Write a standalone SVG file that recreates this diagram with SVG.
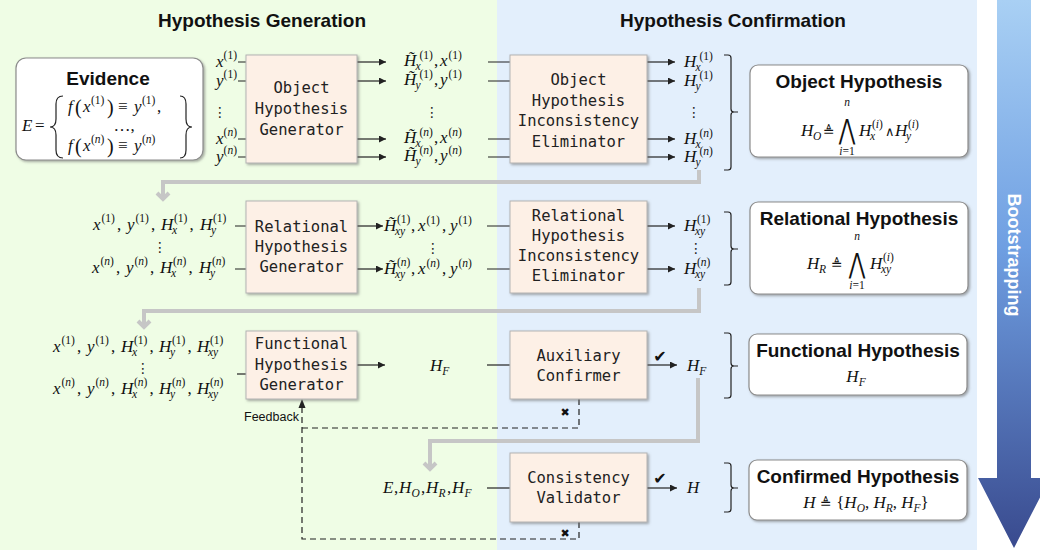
<svg xmlns="http://www.w3.org/2000/svg" width="1040" height="550" viewBox="0 0 1040 550">
<defs>
<style>
.hdr{font-family:"Liberation Sans",Arial,sans-serif;font-weight:bold;font-size:19px;fill:#111;text-anchor:middle}
.ttl{font-family:"Liberation Sans",Arial,sans-serif;font-weight:bold;font-size:19px;fill:#111;text-anchor:middle}
.mono{font-family:"DejaVu Sans Mono",monospace;font-size:15.5px;fill:#222;text-anchor:middle}
.gen{fill:#fdf0e6;stroke:#b3b3b3;stroke-width:1}
.res{fill:#fff;stroke:#8c8c8c;stroke-width:1.2}
.m{font-family:"Liberation Serif","DejaVu Serif",serif;font-style:italic;font-size:17px;fill:#111}
.s{font-size:11.5px}
.u{font-style:normal}
.i{font-style:italic}
.sym{font-family:"DejaVu Sans",sans-serif;font-style:normal}
.big{font-family:"DejaVu Sans",sans-serif;font-style:normal;font-size:28px;fill:#111;text-anchor:middle}
.ln{stroke:#222;stroke-width:1.2;fill:none}
.ar{stroke:#222;stroke-width:1.2;fill:none;marker-end:url(#ah)}
.gray{stroke:#c6c6c6;stroke-width:4;fill:none}
.dash{stroke:#222;stroke-width:1.2;fill:none;stroke-dasharray:6 4}
.brk{stroke:#222;stroke-width:1.2;fill:none}
.dots{font-family:"DejaVu Sans",sans-serif;font-size:14px;fill:#222;text-anchor:middle}
.mk{font-family:"DejaVu Sans",sans-serif;fill:#111}
</style>
<marker id="ah" viewBox="0 0 10 10" refX="10" refY="5" markerWidth="8" markerHeight="7" orient="auto" markerUnits="userSpaceOnUse">
<path d="M0,0 L10,5 L0,10 z" fill="#222"/>
</marker>
<linearGradient id="bs" x1="0" y1="0" x2="0" y2="1">
<stop offset="0" stop-color="#a9d0f4"/>
<stop offset="0.45" stop-color="#6f9fe2"/>
<stop offset="1" stop-color="#394a8e"/>
</linearGradient>
<filter id="sh" x="-5%" y="-5%" width="115%" height="125%">
<feDropShadow dx="1.5" dy="1.5" stdDeviation="1" flood-color="#666" flood-opacity="0.55"/>
</filter>
</defs>

<!-- backgrounds -->
<rect x="0" y="0" width="497" height="550" fill="#effde5"/>
<rect x="497" y="0" width="480" height="550" fill="#e3effc"/>
<rect x="977" y="0" width="63" height="550" fill="#ffffff"/>

<!-- bootstrapping arrow -->
<g id="bootstrapping">
<path d="M997,0 H1031 V478 H1050 L1014,548 L978,478 H997 Z" fill="url(#bs)"/>
<text transform="translate(1014,255) rotate(90)" x="0" y="6" font-family="Liberation Sans,Arial,sans-serif" font-weight="bold" font-size="18" fill="#fff" text-anchor="middle">Bootstrapping</text>
</g>

<text class="hdr" x="262" y="27">Hypothesis Generation</text>
<text class="hdr" x="733" y="27">Hypothesis Confirmation</text>

<!-- connectors -->
<g id="connectors">
<!-- row 1 -->
<path class="ln" d="M238,62 H246 M238,81 H246 M238,139 H246 M238,157 H246"/>
<path class="ar" d="M357,62 H386"/><path class="ar" d="M357,81 H386"/>
<path class="ar" d="M357,139 H386"/><path class="ar" d="M357,157 H386"/>
<path class="ln" d="M488,62 H510 M488,81 H510 M488,139 H510 M488,157 H510"/>
<path class="ar" d="M647,62 H675"/><path class="ar" d="M647,81 H675"/>
<path class="ar" d="M647,139 H675"/><path class="ar" d="M647,157 H675"/>
<!-- row 2 -->
<path class="ln" d="M235,226 H246 M235,269 H246"/>
<path class="ar" d="M357,226 H383"/><path class="ar" d="M357,269 H383"/>
<path class="ln" d="M487,226 H510 M487,269 H510"/>
<path class="ar" d="M647,226 H675"/><path class="ar" d="M647,269 H675"/>
<!-- row 3 -->
<path class="ln" d="M237,374 H246"/>
<path class="ar" d="M357,365 H385"/>
<path class="ln" d="M487,365 H510"/>
<path class="ar" d="M647,365 H677"/>
<!-- row 4 -->
<path class="ln" d="M487,488 H510"/>
<path class="ar" d="M647,488 H677"/>
<!-- brackets -->
<path class="brk" d="M724,55 H728 Q731,55 731,58 V109 Q731,112 734,112 H738 M734,112 Q731,112 731,115 V167 Q731,170 728,170 H724"/>
<path class="brk" d="M724,212 H728 Q731,212 731,215 V246 Q731,249 734,249 H738 M734,249 Q731,249 731,252 V282 Q731,285 728,285 H724"/>
<path class="brk" d="M724,333 H728 Q731,333 731,336 V363 Q731,366 734,366 H738 M734,366 Q731,366 731,369 V395 Q731,398 728,398 H724"/>
<path class="brk" d="M724,463 H728 Q731,463 731,466 V485 Q731,488 734,488 H738 M734,488 Q731,488 731,491 V509 Q731,512 728,512 H724"/>
<!-- gray flow -->
<path class="gray" d="M699,170 V182 H163 V199"/>
<path class="gray" d="M157,193 L163,199 L169,193"/>
<path class="gray" d="M699,288 V311 H144 V327"/>
<path class="gray" d="M138,321 L144,327 L150,321"/>
<path class="gray" d="M698,378 V441 H430 V469"/>
<path class="gray" d="M424,463 L430,469 L436,463"/>
<!-- feedback dashed -->
<path class="dash" d="M579,399 V428 H302"/>
<path class="dash" d="M579,522 V539 H302 V407"/>
<path d="M302,399 L298.5,408 L305.5,408 Z" fill="#222"/>
<text class="mk" x="565" y="416" font-size="11" text-anchor="middle">✖</text>
<text class="mk" x="565" y="537" font-size="11" text-anchor="middle">✖</text>
<text class="mk" x="660" y="362" font-size="16" text-anchor="middle">✔</text>
<text class="mk" x="660" y="484" font-size="16" text-anchor="middle">✔</text>
<text x="244" y="421" font-family="Liberation Sans,Arial,sans-serif" font-size="12.5" fill="#111">Feedback</text>
</g>

<!-- Evidence -->
<g id="evidence">
<rect x="16" y="58" width="187" height="102" rx="10" class="res" filter="url(#sh)"/>
<text class="ttl" x="108" y="85">Evidence</text>
<text class="m" x="22" y="131">E<tspan class="u" x="35">=</tspan></text>
<path class="brk" stroke-width="1.4" d="M63,96 Q56,96 56,104 V119 Q56,127 50,127 Q56,127 56,135 V150 Q56,158 63,158"/>
<path class="brk" stroke-width="1.4" d="M180,96 Q186,96 186,104 V119 Q186,127 192,127 Q186,127 186,135 V150 Q186,158 180,158"/>
<text class="m" y="112"><tspan x="68">f</tspan><tspan class="u" x="75" y="114" font-size="20">(</tspan><tspan x="83" y="112">x</tspan><tspan class="s u" x="91" y="104">(1)</tspan><tspan class="u" x="107" y="114" font-size="20">)</tspan><tspan class="u" x="118" y="112">≡</tspan><tspan x="134" y="112">y</tspan><tspan class="s u" x="142" y="104">(1)</tspan><tspan class="u" x="157" y="112">,</tspan></text>
<text class="m u" x="124" y="131" text-anchor="middle">…,</text>
<text class="m" y="151"><tspan x="68">f</tspan><tspan class="u" x="75" y="153" font-size="20">(</tspan><tspan x="83" y="151">x</tspan><tspan class="s u" x="91" y="143">(<tspan class="i">n</tspan>)</tspan><tspan class="u" x="107" y="153" font-size="20">)</tspan><tspan class="u" x="118" y="151">≡</tspan><tspan x="134" y="151">y</tspan><tspan class="s u" x="142" y="143">(<tspan class="i">n</tspan>)</tspan></text>
</g>

<!-- row 1 inputs -->
<g id="row1-inputs">
<text class="m" x="237" y="67" text-anchor="end">x<tspan class="s u" dy="-8">(1)</tspan></text>
<text class="m" x="237" y="86" text-anchor="end">y<tspan class="s u" dy="-8">(1)</tspan></text>
<text class="dots" x="220" y="117">⋮</text>
<text class="m" x="237" y="144" text-anchor="end">x<tspan class="s u" dy="-8">(<tspan class="i">n</tspan>)</tspan></text>
<text class="m" x="237" y="162" text-anchor="end">y<tspan class="s u" dy="-8">(<tspan class="i">n</tspan>)</tspan></text>
</g>

<g id="object-generator">
<rect x="246" y="55" width="111" height="108" class="gen" filter="url(#sh)"/>
<text class="mono" x="301.5" y="93">Object</text>
<text class="mono" x="301.5" y="114">Hypothesis</text>
<text class="mono" x="301.5" y="135">Generator</text>
</g>

<g id="row1-candidates">
<text class="m" y="66"><tspan x="404">H̃</tspan><tspan class="s u" x="419.5" y="58.5">(1)</tspan><tspan class="s" x="415.5" y="69.5">x</tspan><tspan class="u" x="434" y="66">,</tspan><tspan x="440" y="66">x</tspan><tspan class="s u" x="448.5" y="59">(1)</tspan></text>
<text class="m" y="85"><tspan x="404">H̃</tspan><tspan class="s u" x="419.5" y="77.5">(1)</tspan><tspan class="s" x="415.5" y="88.5">y</tspan><tspan class="u" x="434" y="85">,</tspan><tspan x="440" y="85">y</tspan><tspan class="s u" x="448.5" y="78">(1)</tspan></text>
<text class="dots" x="432" y="117">⋮</text>
<text class="m" y="143"><tspan x="404">H̃</tspan><tspan class="s u" x="419.5" y="135.5">(<tspan class="i">n</tspan>)</tspan><tspan class="s" x="415.5" y="146.5">x</tspan><tspan class="u" x="434" y="143">,</tspan><tspan x="440" y="143">x</tspan><tspan class="s u" x="448.5" y="136">(<tspan class="i">n</tspan>)</tspan></text>
<text class="m" y="161"><tspan x="404">H̃</tspan><tspan class="s u" x="419.5" y="153.5">(<tspan class="i">n</tspan>)</tspan><tspan class="s" x="415.5" y="164.5">y</tspan><tspan class="u" x="434" y="161">,</tspan><tspan x="440" y="161">y</tspan><tspan class="s u" x="448.5" y="154">(<tspan class="i">n</tspan>)</tspan></text>
</g>

<g id="object-eliminator">
<rect x="510" y="55" width="137" height="108" class="gen" filter="url(#sh)"/>
<text class="mono" x="578.5" y="85">Object</text>
<text class="mono" x="578.5" y="105.5">Hypothesis</text>
<text class="mono" x="578.5" y="126">Inconsistency</text>
<text class="mono" x="578.5" y="146.5">Eliminator</text>
</g>

<g id="row1-outputs">
<text class="m" y="67"><tspan x="684">H</tspan><tspan class="s u" x="699.5" y="59.5">(1)</tspan><tspan class="s" x="695.5" y="70.5">x</tspan></text>
<text class="m" y="86"><tspan x="684">H</tspan><tspan class="s u" x="699.5" y="78.5">(1)</tspan><tspan class="s" x="695.5" y="89.5">y</tspan></text>
<text class="dots" x="694" y="117">⋮</text>
<text class="m" y="144"><tspan x="684">H</tspan><tspan class="s u" x="699.5" y="136.5">(<tspan class="i">n</tspan>)</tspan><tspan class="s" x="695.5" y="147.5">x</tspan></text>
<text class="m" y="162"><tspan x="684">H</tspan><tspan class="s u" x="699.5" y="154.5">(<tspan class="i">n</tspan>)</tspan><tspan class="s" x="695.5" y="165.5">y</tspan></text>
</g>

<g id="object-hypothesis">
<rect x="750" y="65" width="218" height="92" rx="8" class="res" filter="url(#sh)"/>
<text class="ttl" x="859" y="88">Object Hypothesis</text>
<text class="m" y="136"><tspan x="801">H</tspan><tspan class="s" x="813" y="140">O</tspan><tspan class="sym" x="823" y="136" font-size="14">≜</tspan></text>
<text class="m s" x="847" y="106" text-anchor="middle">n</text>
<text class="big" transform="translate(847,139) scale(0.72,1)" x="0" y="0">⋀</text>
<text class="m s" x="847" y="155" text-anchor="middle">i<tspan class="u">=1</tspan></text>
<text class="m" y="136"><tspan x="859">H</tspan><tspan class="s u" x="872" y="128">(<tspan class="i">i</tspan>)</tspan><tspan class="s" x="870" y="140">x</tspan><tspan class="u sym" x="885" y="136" font-size="13">∧</tspan><tspan x="895" y="136">H</tspan><tspan class="s u" x="908" y="128">(<tspan class="i">i</tspan>)</tspan><tspan class="s" x="906" y="140">y</tspan></text>
</g>

<!-- row 2 -->
<g id="row2-inputs">
<text class="m" y="230"><tspan x="93">x</tspan><tspan class="s u" x="101.5" y="222">(1)</tspan><tspan class="u" x="117" y="230">,</tspan><tspan x="127" y="230">y</tspan><tspan class="s u" x="135.5" y="222">(1)</tspan><tspan class="u" x="151" y="230">,</tspan><tspan x="161" y="230">H</tspan><tspan class="s u" x="174" y="222">(1)</tspan><tspan class="s" x="172" y="234">x</tspan><tspan class="u" x="189.5" y="230">,</tspan><tspan x="200" y="230">H</tspan><tspan class="s u" x="213" y="222">(1)</tspan><tspan class="s" x="211" y="234">y</tspan></text>
<text class="dots" x="160" y="252">⋮</text>
<text class="m" y="273"><tspan x="92">x</tspan><tspan class="s u" x="100.5" y="265">(<tspan class="i">n</tspan>)</tspan><tspan class="u" x="116" y="273">,</tspan><tspan x="126" y="273">y</tspan><tspan class="s u" x="134.5" y="265">(<tspan class="i">n</tspan>)</tspan><tspan class="u" x="150" y="273">,</tspan><tspan x="160" y="273">H</tspan><tspan class="s u" x="173" y="265">(<tspan class="i">n</tspan>)</tspan><tspan class="s" x="171" y="277">x</tspan><tspan class="u" x="188.5" y="273">,</tspan><tspan x="199" y="273">H</tspan><tspan class="s u" x="212" y="265">(<tspan class="i">n</tspan>)</tspan><tspan class="s" x="210" y="277">y</tspan></text>
</g>

<g id="relational-generator">
<rect x="246" y="201" width="111" height="92" class="gen" filter="url(#sh)"/>
<text class="mono" x="301.5" y="232">Relational</text>
<text class="mono" x="301.5" y="252">Hypothesis</text>
<text class="mono" x="301.5" y="272">Generator</text>
</g>

<g id="row2-candidates">
<text class="m" y="231"><tspan x="384">H̃</tspan><tspan class="s u" x="397" y="223">(1)</tspan><tspan class="s" x="395" y="235">xy</tspan><tspan class="u" x="411" y="231">,</tspan><tspan x="418" y="231">x</tspan><tspan class="s u" x="426.5" y="224">(1)</tspan><tspan class="u" x="442" y="231">,</tspan><tspan x="450" y="231">y</tspan><tspan class="s u" x="458.5" y="224">(1)</tspan></text>
<text class="dots" x="433" y="253">⋮</text>
<text class="m" y="274"><tspan x="384">H̃</tspan><tspan class="s u" x="397" y="266">(<tspan class="i">n</tspan>)</tspan><tspan class="s" x="395" y="278">xy</tspan><tspan class="u" x="411" y="274">,</tspan><tspan x="418" y="274">x</tspan><tspan class="s u" x="426.5" y="267">(<tspan class="i">n</tspan>)</tspan><tspan class="u" x="442" y="274">,</tspan><tspan x="450" y="274">y</tspan><tspan class="s u" x="458.5" y="267">(<tspan class="i">n</tspan>)</tspan></text>
</g>

<g id="relational-eliminator">
<rect x="510" y="201" width="137" height="92" class="gen" filter="url(#sh)"/>
<text class="mono" x="578.5" y="221">Relational</text>
<text class="mono" x="578.5" y="241">Hypothesis</text>
<text class="mono" x="578.5" y="261">Inconsistency</text>
<text class="mono" x="578.5" y="281">Eliminator</text>
</g>

<g id="row2-outputs">
<text class="m" y="231"><tspan x="684">H</tspan><tspan class="s u" x="697" y="223">(1)</tspan><tspan class="s" x="695" y="235">xy</tspan></text>
<text class="dots" x="696" y="253">⋮</text>
<text class="m" y="274"><tspan x="684">H</tspan><tspan class="s u" x="697" y="266">(<tspan class="i">n</tspan>)</tspan><tspan class="s" x="695" y="278">xy</tspan></text>
</g>

<g id="relational-hypothesis">
<rect x="750" y="202" width="218" height="92" rx="8" class="res" filter="url(#sh)"/>
<text class="ttl" x="859" y="225">Relational Hypothesis</text>
<text class="m" y="269"><tspan x="807">H</tspan><tspan class="s" x="819" y="273">R</tspan><tspan class="sym" x="831" y="269" font-size="14">≜</tspan></text>
<text class="m s" x="857" y="240" text-anchor="middle">n</text>
<text class="big" transform="translate(857,273) scale(0.72,1)" x="0" y="0">⋀</text>
<text class="m s" x="857" y="289" text-anchor="middle">i<tspan class="u">=1</tspan></text>
<text class="m" y="269"><tspan x="870">H</tspan><tspan class="s u" x="883" y="261">(<tspan class="i">i</tspan>)</tspan><tspan class="s" x="881" y="273">xy</tspan></text>
</g>

<!-- row 3 -->
<g id="row3-inputs">
<text class="m" y="352"><tspan x="53">x</tspan><tspan class="s u" x="61.5" y="344">(1)</tspan><tspan class="u" x="77" y="352">,</tspan><tspan x="87" y="352">y</tspan><tspan class="s u" x="95.5" y="344">(1)</tspan><tspan class="u" x="111" y="352">,</tspan><tspan x="121" y="352">H</tspan><tspan class="s u" x="134" y="344">(1)</tspan><tspan class="s" x="132" y="356">x</tspan><tspan class="u" x="149.5" y="352">,</tspan><tspan x="159" y="352">H</tspan><tspan class="s u" x="172" y="344">(1)</tspan><tspan class="s" x="170" y="356">y</tspan><tspan class="u" x="187.5" y="352">,</tspan><tspan x="197" y="352">H</tspan><tspan class="s u" x="210" y="344">(1)</tspan><tspan class="s" x="208" y="356">xy</tspan></text>
<text class="dots" x="143" y="373" font-size="11">⋮</text>
<text class="m" y="394"><tspan x="53">x</tspan><tspan class="s u" x="61.5" y="386">(<tspan class="i">n</tspan>)</tspan><tspan class="u" x="77" y="394">,</tspan><tspan x="87" y="394">y</tspan><tspan class="s u" x="95.5" y="386">(<tspan class="i">n</tspan>)</tspan><tspan class="u" x="111" y="394">,</tspan><tspan x="121" y="394">H</tspan><tspan class="s u" x="134" y="386">(<tspan class="i">n</tspan>)</tspan><tspan class="s" x="132" y="398">x</tspan><tspan class="u" x="149.5" y="394">,</tspan><tspan x="159" y="394">H</tspan><tspan class="s u" x="172" y="386">(<tspan class="i">n</tspan>)</tspan><tspan class="s" x="170" y="398">y</tspan><tspan class="u" x="187.5" y="394">,</tspan><tspan x="197" y="394">H</tspan><tspan class="s u" x="210" y="386">(<tspan class="i">n</tspan>)</tspan><tspan class="s" x="208" y="398">xy</tspan></text>
</g>

<g id="functional-generator">
<rect x="246" y="331" width="111" height="68" class="gen" filter="url(#sh)"/>
<text class="mono" x="301.5" y="349">Functional</text>
<text class="mono" x="301.5" y="370">Hypothesis</text>
<text class="mono" x="301.5" y="390">Generator</text>
</g>

<g id="row3-candidate">
<text class="m" x="430" y="371">H<tspan class="s" dy="4">F</tspan></text>
</g>

<g id="auxiliary-confirmer">
<rect x="510" y="331" width="137" height="68" class="gen" filter="url(#sh)"/>
<text class="mono" x="578.5" y="361">Auxiliary</text>
<text class="mono" x="578.5" y="381">Confirmer</text>
</g>

<g id="row3-output">
<text class="m" x="687" y="371">H<tspan class="s" dy="4">F</tspan></text>
</g>

<g id="functional-hypothesis">
<rect x="749" y="334" width="218" height="61" rx="8" class="res" filter="url(#sh)"/>
<text class="ttl" x="858" y="357">Functional Hypothesis</text>
<text class="m" x="856" y="382" text-anchor="middle">H<tspan class="s" dy="4">F</tspan></text>
</g>

<!-- row 4 -->
<g id="row4-inputs">
<text class="m" y="493"><tspan x="383">E</tspan><tspan class="u" x="394">,</tspan><tspan x="399">H</tspan><tspan class="s" x="411.5" y="497">O</tspan><tspan class="u" x="421" y="493">,</tspan><tspan x="426">H</tspan><tspan class="s" x="438.5" y="497">R</tspan><tspan class="u" x="447" y="493">,</tspan><tspan x="452">H</tspan><tspan class="s" x="464.5" y="497">F</tspan></text>
</g>

<g id="consistency-validator">
<rect x="510" y="453" width="137" height="69" class="gen" filter="url(#sh)"/>
<text class="mono" x="578.5" y="483">Consistency</text>
<text class="mono" x="578.5" y="503">Validator</text>
</g>

<g id="row4-output">
<text class="m" x="687" y="493">H</text>
</g>

<g id="confirmed-hypothesis">
<rect x="749" y="460" width="218" height="60" rx="8" class="res" filter="url(#sh)"/>
<text class="ttl" x="858" y="483">Confirmed Hypothesis</text>
<text class="m" x="866" y="508" text-anchor="middle">H<tspan class="sym" font-size="14"> ≜ </tspan><tspan class="u">{</tspan>H<tspan class="s" dy="4">O</tspan><tspan class="u" dy="-4">, </tspan>H<tspan class="s" dy="4">R</tspan><tspan class="u" dy="-4">, </tspan>H<tspan class="s" dy="4">F</tspan><tspan class="u" dy="-4">}</tspan></text>
</g>
</svg>
